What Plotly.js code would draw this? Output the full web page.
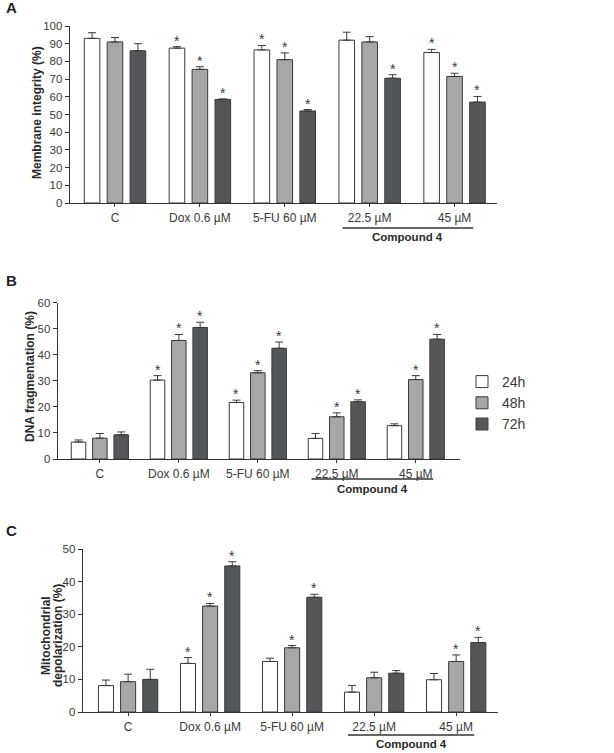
<!DOCTYPE html>
<html>
<head>
<meta charset="utf-8">
<script src="https://cdn.plot.ly/plotly-3.0.1.min.js"></script>
<style>html,body{margin:0;padding:0;background:#fff;}#chart{width:614px;height:753px;}</style>
</head>
<body>
<div id="chart"></div>
<script>
// ---------- data ----------
const categories = ['C', 'Dox 0.6 µM', '5-FU 60 µM', '22.5 µM', '45 µM'];
const seriesNames = ['24h', '48h', '72h'];

// Panel A: membrane integrity (%)
const membrane24 = [93, 87.5, 86.5, 92, 85];
const membrane24Err = [3.2, 0.8, 2.5, 4.5, 1.8];
const membrane48 = [91, 75.5, 81, 91, 71.5];
const membrane48Err = [2.5, 1.5, 3.8, 3, 1.8];
const membrane72 = [86, 58.5, 52, 70.5, 57];
const membrane72Err = [4, 0.3, 0.8, 2, 3.2];
const membraneSig24 = [0, 1, 1, 0, 1];
const membraneSig48 = [0, 1, 1, 0, 1];
const membraneSig72 = [0, 1, 1, 1, 1];

// Panel B: DNA fragmentation (%)
const dna24 = [6.5, 30.3, 21.7, 7.9, 12.8];
const dna24Err = [0.8, 1.7, 0.9, 1.9, 0.7];
const dna48 = [8, 45.5, 33.1, 16.2, 30.5];
const dna48Err = [1.8, 2.3, 0.8, 1.5, 1.5];
const dna72 = [9.3, 50.5, 42.5, 22, 46];
const dna72Err = [1.1, 2, 2.4, 0.7, 1.8];
const dnaSig24 = [0, 1, 1, 0, 0];
const dnaSig48 = [0, 1, 1, 1, 1];
const dnaSig72 = [0, 1, 1, 1, 1];

// Panel C: mitochondrial depolarization (%)
const mito24 = [8.1, 14.9, 15.5, 6.1, 9.9];
const mito24Err = [1.7, 1.8, 1, 2, 1.9];
const mito48 = [9.3, 32.5, 19.7, 10.5, 15.5];
const mito48Err = [2.3, 0.8, 0.7, 1.7, 2];
const mito72 = [10, 44.8, 35.2, 11.9, 21.3];
const mito72Err = [3.1, 1.3, 0.9, 0.8, 1.6];
const mitoSig24 = [0, 1, 0, 0, 0];
const mitoSig48 = [0, 1, 1, 0, 1];
const mitoSig72 = [0, 1, 1, 0, 1];

// ---------- styling ----------
const FONT = 'Liberation Sans, Arial, sans-serif';
const TXT = '#3a3a3a';
const OUTLINE = '#3a3a3a';
const fills = ['#ffffff', '#a7a7a7', '#54575a'];
const BARGAP = 0.19, BARGROUPGAP = 0.32;
const SLOT = (1 - BARGAP) / 3;
const W = 614, H = 753;

const panels = [
  {ax: '', vals: [membrane24, membrane48, membrane72], errs: [membrane24Err, membrane48Err, membrane72Err],
   sig: [membraneSig24, membraneSig48, membraneSig72], legend: false},
  {ax: '2', vals: [dna24, dna48, dna72], errs: [dna24Err, dna48Err, dna72Err],
   sig: [dnaSig24, dnaSig48, dnaSig72], legend: true},
  {ax: '3', vals: [mito24, mito48, mito72], errs: [mito24Err, mito48Err, mito72Err],
   sig: [mitoSig24, mitoSig48, mitoSig72], legend: false}
];

const traces = [];
const annotations = [];
const shapes = [];

panels.forEach(p => {
  p.vals.forEach((v, j) => {
    traces.push({
      type: 'bar', x: categories, y: v, name: seriesNames[j],
      xaxis: 'x' + p.ax, yaxis: 'y' + p.ax,
      legendgroup: seriesNames[j], showlegend: p.legend,
      marker: {color: fills[j], line: {color: OUTLINE, width: 1}},
      error_y: {type: 'data', symmetric: false, array: p.errs[j],
                arrayminus: v.map(() => 0), color: OUTLINE, thickness: 1, width: 4},
      hoverinfo: 'skip'
    });
    p.sig[j].forEach((s, i) => {
      if (s) annotations.push({
        xref: 'x' + p.ax, yref: 'y' + p.ax,
        x: i + (j - 1) * SLOT, y: v[i] + p.errs[j][i],
        text: '*', showarrow: false, yanchor: 'bottom', yshift: -4,
        font: {family: FONT, size: 14, color: TXT}
      });
    });
  });
});

function px(x) { return x / W; }
function py(y) { return 1 - y / H; }

const axisCommon = {
  type: 'category', showgrid: false, zeroline: false, showline: true,
  linecolor: '#333', linewidth: 1.3, ticks: 'outside', ticklen: 3, tickcolor: '#333',
  tickfont: {family: FONT, size: 12, color: TXT}, fixedrange: true
};
const yCommon = {
  showgrid: false, zeroline: false, showline: true, linecolor: '#333', linewidth: 1.3,
  ticks: 'outside', ticklen: 4, tickcolor: '#333', dtick: 10,
  tickfont: {family: FONT, size: 11.5, color: TXT}, fixedrange: true
};

const layout = {
  width: W, height: H, margin: {l: 0, r: 0, t: 0, b: 0},
  paper_bgcolor: '#fff', plot_bgcolor: '#fff',
  barmode: 'group', bargap: BARGAP, bargroupgap: BARGROUPGAP,
  font: {family: FONT, color: TXT},
  xaxis: Object.assign({}, axisCommon, {domain: [px(70), px(497)], range: [-0.53, 4.5], anchor: 'y'}),
  yaxis: Object.assign({}, yCommon, {domain: [py(203), py(26)], range: [0, 100], anchor: 'x'}),
  xaxis2: Object.assign({}, axisCommon, {domain: [px(58), px(460)], range: [-0.53, 4.56], anchor: 'y2'}),
  yaxis2: Object.assign({}, yCommon, {domain: [py(459), py(302.7)], range: [0, 60], anchor: 'x2'}),
  xaxis3: Object.assign({}, axisCommon, {domain: [px(83), px(498)], range: [-0.55, 4.51], anchor: 'y3'}),
  yaxis3: Object.assign({}, yCommon, {domain: [py(712), py(549)], range: [0, 50], anchor: 'x3'}),
  showlegend: true,
  legend: {x: px(462), y: py(366), xanchor: 'left', yanchor: 'top', traceorder: 'normal',
           font: {family: FONT, size: 14, color: TXT}, bgcolor: 'rgba(0,0,0,0)', tracegroupgap: 0},
  annotations: annotations,
  shapes: shapes
};

// panel letters
[['A', 12, 8], ['B', 12, 280], ['C', 12, 530]].forEach(l => {
  annotations.push({xref: 'paper', yref: 'paper', x: px(l[1]), y: py(l[2]), xanchor: 'center', yanchor: 'middle',
    text: '<b>' + l[0] + '</b>', showarrow: false, font: {family: FONT, size: 15, color: '#222'}});
});

// y-axis titles (one annotation per line so the line spacing can be tight)
[['Membrane integrity (%)', 37, 113], ['DNA fragmentation (%)', 30, 377],
 ['Mitochondrial', 46, 636], ['depolarization (%)', 58, 636]].forEach(t => {
  annotations.push({xref: 'paper', yref: 'paper', x: px(t[1]), y: py(t[2]), xanchor: 'center', yanchor: 'middle',
    text: '<b>' + t[0] + '</b>', textangle: -90, showarrow: false,
    font: {family: FONT, size: 12, color: '#2a2a2a'}});
});

// Compound 4 group bracket
[['', 228, 237], ['2', 479, 489], ['3', 735, 744]].forEach(g => {
  shapes.push({type: 'line', xref: 'x' + g[0], yref: 'paper', x0: 2.68, x1: 4.22, y0: py(g[1]), y1: py(g[1]),
    line: {color: '#333', width: 1.3}});
  annotations.push({xref: 'x' + g[0], yref: 'paper', x: 3.45, y: py(g[2]), xanchor: 'center', yanchor: 'middle',
    text: '<b>Compound 4</b>', showarrow: false, font: {family: FONT, size: 11.5, color: '#2a2a2a'}});
});

Plotly.newPlot('chart', traces, layout, {displayModeBar: false, staticPlot: true});
</script>
</body>
</html>
